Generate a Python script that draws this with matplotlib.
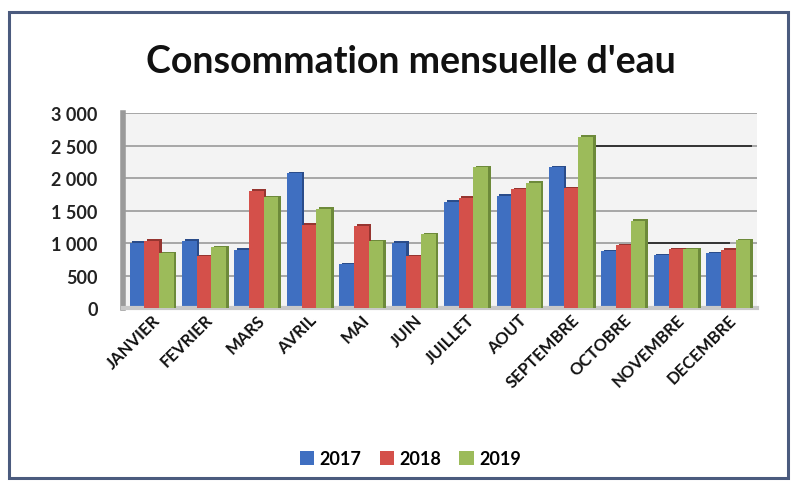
import matplotlib.pyplot as plt
import numpy as np
from matplotlib.patches import Rectangle

plt.rcParams["font.family"] = ["Lato", "DejaVu Sans"]

mois = ["JANVIER", "FEVRIER", "MARS", "AVRIL", "MAI", "JUIN", "JUILLET",
        "AOUT", "SEPTEMBRE", "OCTOBRE", "NOVEMBRE", "DECEMBRE"]
annees = ["2017", "2018", "2019"]
conso_2017 = [1010, 1040, 900, 2080, 680, 1010, 1640, 1730, 2170, 880, 820, 850]
conso_2018 = [1040, 800, 1810, 1290, 1270, 800, 1700, 1830, 1850, 970, 910, 900]
conso_2019 = [850, 940, 1710, 1530, 1030, 1140, 2170, 1930, 2640, 1350, 910, 1050]
y_ticks = [0, 500, 1000, 1500, 2000, 2500, 3000]

couleurs = ["#3f6fc1", "#d4504a", "#9cbb5a"]
ombres = ["#2a4c8a", "#963530", "#6d8a3a"]

fig = plt.figure(figsize=(7.97, 4.85), dpi=100)
fig.patch.set_facecolor("white")
fig.add_artist(Rectangle((0.011, 0.012), 0.978, 0.962, transform=fig.transFigure,
                         fill=False, edgecolor="#4b5b7e", linewidth=2.2))

ax = fig.add_axes([0.154, 0.362, 0.796, 0.402])
ax.set_facecolor("#f3f3f3")

x = np.arange(len(mois))
w = 0.28
for i, (vals, c, s) in enumerate(zip([conso_2017, conso_2018, conso_2019], couleurs, ombres)):
    pos = x + (i - 1) * w
    # side/top face for a 3D look
    ax.bar(pos + 0.05, np.array(vals) + 25, width=w, color=s, zorder=2 + i)
    ax.bar(pos, vals, width=w, color=c, zorder=2.5 + i, label=annees[i])

ax.set_xlim(-0.55, len(mois) - 0.45)
ax.set_ylim(0, 3000)
ax.set_yticks(y_ticks)
ax.set_yticklabels([f"{v:,}".replace(",", " ") for v in y_ticks],
                   fontsize=13, fontweight="bold", color="#222222")
ax.yaxis.grid(True, color="#a0a0a0", linewidth=1.3, zorder=0)
ax.set_axisbelow(True)
ax.tick_params(axis="y", length=0, pad=18)
ax.tick_params(axis="x", length=0, pad=2)
ax.set_xticks(x)
ax.set_xticklabels(mois, rotation=45, ha="right", va="top", rotation_mode="anchor",
                   fontsize=12, fontweight="bold", color="#111111")
for sp in ax.spines.values():
    sp.set_visible(False)
ax.spines["left"].set_visible(True)
ax.spines["left"].set_color("#9a9a9a")
ax.spines["left"].set_linewidth(4)
ax.spines["bottom"].set_visible(True)
ax.spines["bottom"].set_color("#c8c8c8")
ax.spines["bottom"].set_linewidth(3)

# darker scan marks along two gridlines
ax.axhline(2500, xmin=0.745, xmax=0.99, color="#333333", linewidth=1.4, zorder=1)
ax.axhline(1000, xmin=0.82, xmax=0.955, color="#333333", linewidth=1.4, zorder=1)

fig.text(0.515, 0.872, "Consommation mensuelle d'eau", ha="center", va="center",
         fontsize=27, fontweight="bold", color="#111111")

fig.legend(loc="center", bbox_to_anchor=(0.515, 0.052), ncol=3, frameon=False,
           handlelength=0.8, handleheight=0.8, handletextpad=0.3,
           columnspacing=1.0, prop={"weight": "bold", "size": 13})

fig.savefig("out.png", dpi=100)
